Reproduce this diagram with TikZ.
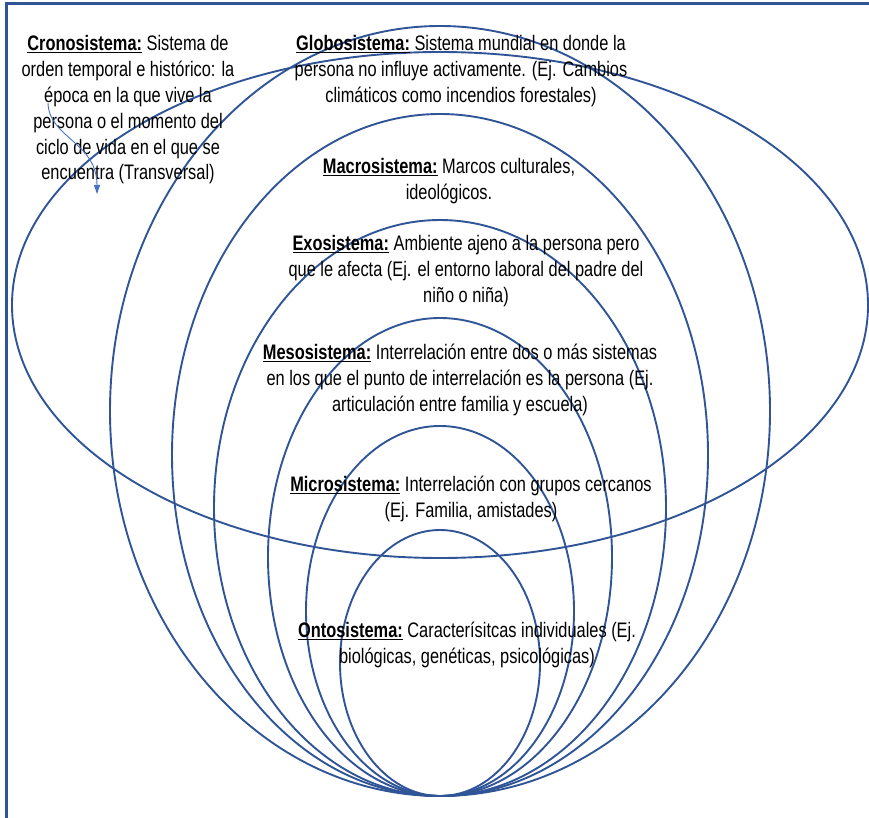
\documentclass[tikz,border=0pt]{standalone}
\usepackage{fontspec}
\setmainfont{Liberation Sans}[FakeStretch=0.78]
\usepackage{tikz}
\usetikzlibrary{arrows.meta}
\usetikzlibrary{shapes.geometric}

\definecolor{azulmarco}{HTML}{2F5597}
\definecolor{azulflecha}{HTML}{4472C4}

\newcommand{\sistema}[1]{\underline{\textbf{#1}}}

\begin{document}
\begin{tikzpicture}[x=1pt,y=-1pt,
        orbita/.style={ellipse,draw=azulmarco,line width=1.9pt,inner sep=0pt,outer sep=0pt},
        texto/.style={align=center,inner sep=0pt,font=\fontsize{21}{25.8}\selectfont}]
    \useasboundingbox (0,0) rectangle (869,818);
    \draw[azulmarco,line width=3pt] (6,818) -- (6,4) -- (869,4);

    % elipses
    \node[orbita,minimum width=856pt,minimum height=506pt] (e_crono) at (440,305) {};
    \node[orbita,minimum width=660pt,minimum height=770pt] (e_globo) at (440,411) {};
    \node[orbita,minimum width=536pt,minimum height=682pt] (e_macro) at (440,455) {};
    \node[orbita,minimum width=452pt,minimum height=576pt] (e_exo) at (440,508) {};
    \node[orbita,minimum width=344pt,minimum height=478pt] (e_meso) at (440,557) {};
    \node[orbita,minimum width=268pt,minimum height=370pt] (e_micro) at (440,611) {};
    \node[orbita,minimum width=200pt,minimum height=266pt] (e_onto) at (440,663) {};

    % textos
    \node[texto] (t_crono) at (128,110) {\sistema{Cronosistema:} Sistema de\\
        orden temporal e histórico: la\\ época en la que vive la\\
        persona o el momento del\\ ciclo de vida en el que se\\
        encuentra (Transversal)};
    \node[texto] (t_globo) at (461,71) {\sistema{Globosistema:} Sistema mundial en donde la\\
        persona no influye activamente. (Ej. Cambios\\
        climáticos como incendios forestales)};
    \node[texto] (t_macro) at (449,181) {\sistema{Macrosistema:} Marcos culturales,\\ ideológicos.};
    \node[texto] (t_exo) at (466,271) {\sistema{Exosistema:} Ambiente ajeno a la persona pero\\
        que le afecta (Ej. el entorno laboral del padre del\\ niño o niña)};
    \node[texto] (t_meso) at (460,380) {\sistema{Mesosistema:} Interrelación entre dos o más sistemas\\
        en los que el punto de interrelación es la persona (Ej.\\
        articulación entre familia y escuela)};
    \node[texto] (t_micro) at (471,499) {\sistema{Microsistema:} Interrelación con grupos cercanos\\
        (Ej. Familia, amistades)};
    \node[texto] (t_onto) at (467,645) {\sistema{Ontosistema:} Caracterísitcas individuales (Ej.\\
        biológicas, genéticas, psicológicas)};

    % flecha del cronosistema
    \coordinate (f_ini) at (48,103);
    \coordinate (f_fin) at (97,194);
    \draw[azulflecha,line width=0.9pt,-{Triangle[length=9pt,width=6pt]}]
        (f_ini) .. controls (49,138) and (97,142) .. (f_fin);
\end{tikzpicture}
\end{document}
